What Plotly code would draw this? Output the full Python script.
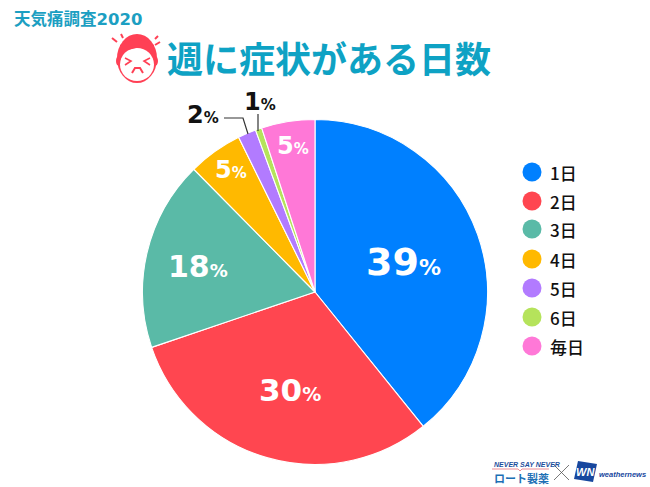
import plotly.graph_objects as go

categories = ["1日", "2日", "3日", "4日", "5日", "6日", "毎日"]
values = [39.2, 30.6, 17.8, 5.1, 1.7, 0.6, 5.0]   # slice shares
percent_labels = [39, 30, 18, 5, 2, 1, 5]         # labels as printed
colors = ["#0080ff", "#ff4650", "#5abaa7", "#ffb900", "#b27bff", "#b5e35b", "#ff78d7"]
title_text = "週に症状がある日数"
subtitle_text = "天気痛調査2020"

W, H = 650, 487
CJK = "Noto Sans CJK JP"
LAT = "DejaVu Sans"
def X(x): return x / W
def Y(y): return 1 - y / H

CX, CY, R = 315, 292, 172.5
fig = go.Figure(go.Pie(
    labels=categories, values=values, sort=False, direction="clockwise", rotation=0,
    marker=dict(colors=colors, line=dict(color="white", width=1.1)),
    textinfo="none", hoverinfo="label+percent", showlegend=False,
    domain=dict(x=[X(CX - R), X(CX + R)], y=[Y(CY + R), Y(CY - R)]),
))

ann, shapes = [], []
def text(x, y, t, size, color, family=CJK, xanchor="center", weight=None):
    f = dict(size=size, color=color, family=family)
    if weight:
        f["weight"] = weight
    ann.append(dict(x=X(x), y=Y(y), xref="paper", yref="paper", text=t, showarrow=False,
                    font=f, xanchor=xanchor, yanchor="middle"))

text(12, 19, f"<b>{subtitle_text}</b>", 16.5, "#1c9fc2", family=f"{LAT}, {CJK}", xanchor="left")
text(165, 57, f"<b>{title_text}</b>", 36, "#0ea2c4", xanchor="left")

label_pos = [(403, 262, 38, 22, "white"), (290, 390, 31, 19, "white"), (198, 266, 30, 18, "white"),
             (231, 170, 24, 15, "white"), (203, 115, 24, 15, "#111111"),
             (260, 102, 24, 15, "#111111"), (293, 146, 24, 15, "white")]
for v, (x, y, s1, s2, c) in zip(percent_labels, label_pos):
    text(x, y, f"<b>{v}</b><span style='font-size:{s2}px'><b>%</b></span>", s1, c, family=LAT)

# legend
ys = [172, 201, 229, 259, 288, 317, 346]
for name, col, y in zip(categories, colors, ys):
    shapes.append(dict(type="circle", xref="paper", yref="paper", x0=X(522.5), x1=X(541.5),
                       y0=Y(y + 9.5), y1=Y(y - 9.5), fillcolor=col, line_width=0))
    text(548, y, name, 17, "#111111", xanchor="left", weight=500)

def path(pts, close=False):
    return "M " + " L ".join(f"{X(a)} {Y(b)}" for a, b in pts) + (" Z" if close else "")
def line(pts, color="#333333", w=1.2):
    shapes.append(dict(type="path", xref="paper", yref="paper", path=path(pts), line=dict(color=color, width=w)))

# leader lines
line([(224, 118), (243, 118), (248, 134)])
line([(258, 114), (258, 131)])

# face icon
RED = "#ff4055"
def ell(cx, cy, rx, ry, fill, lw=0, lc=RED):
    shapes.append(dict(type="circle", xref="paper", yref="paper", x0=X(cx - rx), x1=X(cx + rx),
                       y0=Y(cy + ry), y1=Y(cy - ry), fillcolor=fill, line=dict(width=lw, color=lc)))
ell(119, 61, 3, 5, RED)
ell(155, 61, 3, 5, RED)
ell(137, 58.5, 20, 24.5, RED)
ell(137, 64.5, 17, 16.5, "white")
shapes.append(dict(type="path", xref="paper", yref="paper", fillcolor=RED, line_width=0,
                   path=path([(120, 58), (124, 51), (136, 48), (143, 42), (150, 50), (154, 58), (154, 45), (137, 38), (120, 45)], True)))
line([(125, 58), (131, 61), (125, 65)], RED, 1.6)
line([(150, 58), (144, 61), (150, 65)], RED, 1.6)
line([(132, 73), (135, 68), (140, 68), (143, 73)], RED, 2)
line([(112, 38), (117, 42)], RED, 2)
line([(121, 34), (123, 38)], RED, 2)
line([(155, 45), (160, 42)], RED, 2)
line([(155, 39), (158, 36)], RED, 2)

# logos
NAVY = "#1d4f9c"
text(492, 464, "<b><i>NEVER SAY NEVER</i></b>", 7, NAVY, family="Liberation Sans", xanchor="left")
line([(492, 469), (518, 469), (520, 471), (522, 469), (549, 469)], "#e8707a", 0.8)
text(492, 478, "<b>ロート製薬</b>", 11, "#1b6fb5", xanchor="left")
line([(554, 465), (569, 480)], "#555555", 0.8)
line([(569, 465), (554, 480)], "#555555", 0.8)
shapes.append(dict(type="path", xref="paper", yref="paper", fillcolor="#17479e", line_width=0,
                   path=path([(578, 461), (597, 464), (593, 482), (574, 479)], True)))
text(585.5, 472, "<b><i>WN</i></b>", 11, "white", family="Liberation Sans")
text(597, 474.5, "<b><i>weathernews</i></b>", 7.5, "#17479e", family="Liberation Sans", xanchor="left")

fig.update_layout(width=W, height=H, margin=dict(l=0, r=0, t=0, b=0),
                  paper_bgcolor="white", plot_bgcolor="white",
                  annotations=ann, shapes=shapes, showlegend=False)
fig.write_html("out.html", config=dict(displayModeBar=False),
               post_script="document.body.style.margin='0';document.body.style.overflow='hidden';")
